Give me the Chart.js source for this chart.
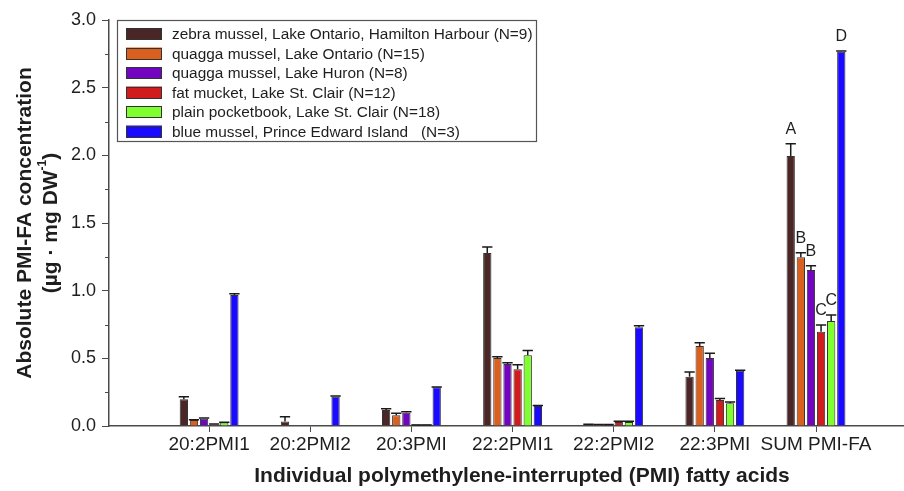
<!DOCTYPE html>
<html>
<head>
<meta charset="utf-8">
<script src="https://cdn.jsdelivr.net/npm/chart.js@4.4.1/dist/chart.umd.min.js"></script>
<style>
  html, body { margin: 0; padding: 0; background: #fff; overflow: hidden; }
  canvas { display: block; }
</style>
</head>
<body>
<canvas id="c" width="904" height="491" style="width:904px;height:491px"></canvas>
<script>
// ---------- data ----------
const categories = ['20:2PMI1', '20:2PMI2', '20:3PMI', '22:2PMI1', '22:2PMI2', '22:3PMI', 'SUM PMI-FA'];

const seriesLabels = [
  'zebra mussel, Lake Ontario, Hamilton Harbour (N=9)',
  'quagga mussel, Lake Ontario (N=15)',
  'quagga mussel, Lake Huron (N=8)',
  'fat mucket, Lake St. Clair (N=12)',
  'plain pocketbook, Lake St. Clair (N=18)',
  'blue mussel, Prince Edward Island   (N=3)'
];

const zebraOntario   = [0.197, 0.034, 0.118, 1.278, 0.010, 0.364, 1.995];
const quaggaOntario  = [0.044, 0.000, 0.079, 0.502, 0.010, 0.591, 1.247];
const quaggaHuron    = [0.054, 0.000, 0.098, 0.458, 0.010, 0.502, 1.153];
const fatMucket      = [0.012, 0.000, 0.008, 0.419, 0.030, 0.192, 0.697];
const plainPocketbook= [0.025, 0.000, 0.008, 0.522, 0.030, 0.168, 0.776];
const blueMussel     = [0.968, 0.217, 0.286, 0.148, 0.730, 0.409, 2.766];

const zebraOntarioErr   = [0.020, 0.035, 0.010, 0.045, 0.003, 0.035, 0.090];
const quaggaOntarioErr  = [0.003, 0.000, 0.015, 0.010, 0.002, 0.025, 0.034];
const quaggaHuronErr    = [0.005, 0.000, 0.008, 0.010, 0.002, 0.035, 0.032];
const fatMucketErr      = [0.002, 0.000, 0.000, 0.034, 0.005, 0.012, 0.050];
const plainPocketbookErr= [0.003, 0.000, 0.000, 0.035, 0.005, 0.009, 0.044];
const blueMusselErr     = [0.010, 0.005, 0.003, 0.003, 0.010, 0.003, 0.005];

const sumLetters = ['A', 'B', 'B', 'C', 'C', 'D'];   // significance letters on SUM PMI-FA
const yTicks = [0, 0.5, 1.0, 1.5, 2.0, 2.5, 3.0];

const seriesValues = [zebraOntario, quaggaOntario, quaggaHuron, fatMucket, plainPocketbook, blueMussel];
const seriesErrors = [zebraOntarioErr, quaggaOntarioErr, quaggaHuronErr, fatMucketErr, plainPocketbookErr, blueMusselErr];
const seriesColors = ['#4b2626', '#d9601f', '#7205c0', '#d01c1c', '#80ff30', '#1a0aff'];

// ---------- drawing ----------
const FONT = "'Liberation Sans', Arial, Helvetica, sans-serif";
const TEXT = '#1e1e1e';
const AXIS = '#4a4a4a';

const extras = {
  id: 'extras',
  afterDatasetsDraw(chart) {
    const ctx = chart.ctx;
    const ys = chart.scales.y;
    ctx.save();
    ctx.strokeStyle = '#1a1a1a';
    ctx.lineWidth = 1.5;
    chart.data.datasets.forEach((ds, i) => {
      const meta = chart.getDatasetMeta(i);
      meta.data.forEach((bar, j) => {
        const v = seriesValues[i][j], e = seriesErrors[i][j];
        if (v === 0 && e === 0) return;
        const half = bar.width / 2 + 1;
        const yTop = ys.getPixelForValue(v + e);
        ctx.beginPath();
        ctx.moveTo(bar.x, bar.y);
        ctx.lineTo(bar.x, yTop);
        ctx.moveTo(bar.x - half, yTop);
        ctx.lineTo(bar.x + half, yTop);
        ctx.stroke();
      });
    });
    // letters above SUM PMI-FA bars
    const last = categories.length - 1;
    ctx.fillStyle = TEXT;
    ctx.font = '16px ' + FONT;
    ctx.textAlign = 'center';
    ctx.textBaseline = 'alphabetic';
    sumLetters.forEach((L, i) => {
      const bar = chart.getDatasetMeta(i).data[last];
      const yTop = ys.getPixelForValue(seriesValues[i][last] + seriesErrors[i][last]);
      ctx.fillText(L, bar.x, yTop - 10);
    });
    ctx.restore();
  },
  afterDraw(chart) {
    const ctx = chart.ctx;
    const ys = chart.scales.y;
    const area = chart.chartArea;
    ctx.save();
    // minor y ticks
    ctx.strokeStyle = AXIS;
    ctx.lineWidth = 1;
    for (let k = 0; k < yTicks.length - 1; k++) {
      const y = Math.round(ys.getPixelForValue((yTicks[k] + yTicks[k + 1]) / 2)) + 0.5;
      ctx.beginPath();
      ctx.moveTo(area.left - 4, y);
      ctx.lineTo(area.left, y);
      ctx.stroke();
    }
    // legend
    const lx = 117, ly = 20, lw = 419, lh = 121;
    ctx.fillStyle = '#fff';
    ctx.fillRect(lx, ly, lw, lh);
    ctx.strokeStyle = '#555';
    ctx.lineWidth = 1.2;
    ctx.strokeRect(lx + 0.5, ly + 0.5, lw, lh);
    ctx.font = '15.4px ' + FONT;
    ctx.textAlign = 'left';
    ctx.textBaseline = 'middle';
    seriesLabels.forEach((lab, i) => {
      const cy = 34 + i * 19.5;
      ctx.fillStyle = seriesColors[i];
      ctx.fillRect(126, cy - 6, 36, 12);
      ctx.strokeStyle = '#333';
      ctx.lineWidth = 1;
      ctx.strokeRect(126.5, Math.round(cy - 6) + 0.5, 35, 11);
      ctx.fillStyle = TEXT;
      ctx.fillText(lab, 172, cy + 1);
    });
    // x title
    ctx.font = 'bold 21px ' + FONT;
    ctx.textAlign = 'center';
    ctx.textBaseline = 'middle';
    ctx.fillStyle = TEXT;
    ctx.fillText('Individual polymethylene-interrupted (PMI) fatty acids', 522, 476);
    // y title (two lines, rotated)
    const cyMid = (area.top + area.bottom) / 2;
    ctx.save();
    ctx.translate(25, cyMid);
    ctx.rotate(-Math.PI / 2);
    ctx.fillText('Absolute PMI-FA concentration', 0, 0);
    ctx.restore();
    ctx.save();
    ctx.translate(51, cyMid);
    ctx.rotate(-Math.PI / 2);
    const main = '(\u00B5g \u00B7 mg DW';
    const sup = '-1';
    const close = ')';
    ctx.font = 'bold 21px ' + FONT;
    const wMain = ctx.measureText(main).width;
    const wClose = ctx.measureText(close).width;
    ctx.font = 'bold 12px ' + FONT;
    const wSup = ctx.measureText(sup).width;
    const total = wMain + wSup + wClose;
    let x0 = -total / 2;
    ctx.textAlign = 'left';
    ctx.font = 'bold 21px ' + FONT;
    ctx.fillText(main, x0, 0);
    ctx.font = 'bold 12px ' + FONT;
    ctx.fillText(sup, x0 + wMain, -8);
    ctx.font = 'bold 21px ' + FONT;
    ctx.fillText(close, x0 + wMain + wSup, 0);
    ctx.restore();
    ctx.restore();
  }
};

const datasets = seriesLabels.map((lab, i) => ({
  label: lab,
  data: seriesValues[i].map((v, j) => ({ x: j, y: v })),
  backgroundColor: seriesColors[i],
  borderColor: '#333',
  borderWidth: 1,
  categoryPercentage: 0.6,
  barPercentage: 0.82
}));

new Chart(document.getElementById('c').getContext('2d'), {
  type: 'bar',
  data: { datasets },
  options: {
    responsive: false,
    animation: false,
    devicePixelRatio: 1,
    layout: { padding: { left: 0, right: 0, top: 20, bottom: 0 } },
    plugins: { legend: { display: false }, tooltip: { enabled: false }, title: { display: false } },
    scales: {
      x: {
        type: 'linear',
        min: -0.99,
        max: 6.87,
        offset: false,
        grid: { offset: false, drawOnChartArea: false, tickLength: 6, color: AXIS, tickWidth: 1 },
        border: { color: AXIS, width: 1.5 },
        ticks: {
          stepSize: 1,
          includeBounds: false,
          autoSkip: false,
          maxRotation: 0,
          padding: 1,
          color: TEXT,
          font: { family: FONT, size: 19 },
          callback: (v) => (Number.isInteger(v) && categories[v] !== undefined) ? categories[v] : ''
        },
        afterFit: (s) => { s.height = 65; }
      },
      y: {
        min: 0,
        max: 3,
        grid: { drawOnChartArea: false, tickLength: 7, color: AXIS, tickWidth: 1 },
        border: { color: AXIS, width: 1.5 },
        ticks: {
          stepSize: 0.5,
          padding: 6,
          color: TEXT,
          font: { family: FONT, size: 18 },
          callback: (v) => Number(v).toFixed(1)
        },
        afterFit: (s) => { s.width = 109; }
      }
    }
  },
  plugins: [extras]
});
</script>
</body>
</html>
